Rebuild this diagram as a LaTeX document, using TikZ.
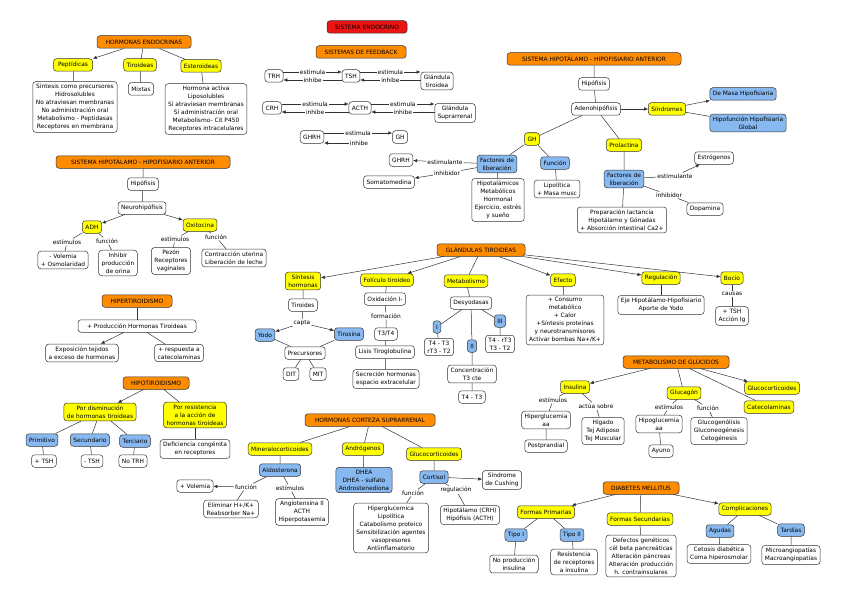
\documentclass[tikz,border=0pt]{standalone}
\usepackage{fontspec}
\setmainfont{DejaVu Sans}
\usetikzlibrary{arrows.meta,calc}
\definecolor{HeadOrange}{RGB}{255,140,0}
\definecolor{TitleRed}{RGB}{235,20,20}
\definecolor{ConceptYellow}{RGB}{255,255,0}
\definecolor{TermBlue}{RGB}{135,185,240}
\definecolor{LineGray}{RGB}{50,50,50}
\newcommand{\feedpair}[2]{%
  \draw[arr] ($(#1.east)+(0,-4)$) -- node[lbl] (#1Est) {estimula} ($(#1.east -| #2.west)+(0,-4)$);
  \draw[arr] ($(#1.east -| #2.west)+(0,4)$) -- node[lbl] (#1Inh) {inhibe} ($(#1.east)+(0,4)$);}

\begin{document}
\begin{tikzpicture}[x=1pt,y=-1pt,
  box/.style={draw=LineGray,fill=white,rounded corners=3pt,align=center,inner xsep=3pt,inner ysep=2.5pt,minimum height=12.5pt,line width=0.5pt,font=\fontsize{5.9}{8}\selectfont},
  head/.style={box,fill=HeadOrange},
  concept/.style={box,fill=ConceptYellow},
  term/.style={box,fill=TermBlue},
  lbl/.style={inner sep=1pt,fill=white,font=\fontsize{5.9}{7}\selectfont},
  link/.style={draw=LineGray,line width=0.5pt},
  arr/.style={link,-{Latex[length=4pt,width=3.5pt]}}]
  \useasboundingbox (0,0) rectangle (848,599);

  \node[head,minimum width=94pt] (hormEnd) at (144,42) {HORMONAS ENDOCRINAS};
  \node[concept,minimum width=39pt] (pept) at (73,65) {Peptídicas};
  \node[concept] (tiro) at (140,65) {Tiroideas};
  \node[concept] (ester) at (201,66) {Esteroideas};
  \node[box] (peptTxt) at (75,107) {Síntesis como precursores\\Hidrosolubles\\No atraviesan membranas\\No administración oral\\Metabolismo - Peptidasas\\Receptores en membrana};
  \node[box] (mixtas) at (141,89) {Mixtas};
  \node[box] (esterTxt) at (206,109) {Hormona activa\\Liposolubles\\Sí atraviesan membranas\\Sí administración oral\\Metabolismo- Cit P450\\Receptores intracelulares};
  \draw[arr] (hormEnd) -- (pept);
  \draw[link] (hormEnd) -- (tiro);
  \draw[link] (hormEnd) -- (ester);
  \draw[link] (pept) -- (peptTxt);
  \draw[link] (tiro) -- (mixtas);
  \draw[link] (ester) -- (esterTxt);

  \node[head,minimum width=174pt] (shhPost) at (143,162) {SISTEMA HIPOTÁLAMO - HIPOFISIARIO ANTERIOR};
  \node[box] (hipoL) at (143,184) {Hipófisis};
  \node[box] (neuro) at (142,208) {Neurohipófisis};
  \node[concept] (adh) at (92,227) {ADH};
  \node[concept] (oxi) at (200,225) {Oxitocina};
  \node[lbl] (adhEst) at (67,242) {estímulos};
  \node[lbl] (adhFun) at (107,241) {función};
  \node[box] (adhEstTxt) at (63,260) {- Volemia\\+ Osmolaridad};
  \node[box] (adhFunTxt) at (118,263) {Inhibir\\producción\\de orina};
  \node[lbl] (oxiEst) at (175,239) {estímulos};
  \node[lbl] (oxiFun) at (216,237) {función};
  \node[box] (oxiEstTxt) at (171,261) {Pezón\\Receptores\\vaginales};
  \node[box] (oxiFunTxt) at (234,258) {Contracción uterina\\Liberación de leche};
  \draw[link] (shhPost) -- (hipoL) -- (neuro);
  \draw[arr] (neuro) -- (adh);
  \draw[arr] (neuro) -- (oxi);
  \draw[link] (adh) -- (adhEst) -- (adhEstTxt);
  \draw[link] (adh) -- (adhFun) -- (adhFunTxt);
  \draw[link] (oxi) -- (oxiEst) -- (oxiEstTxt);
  \draw[link] (oxi) -- (oxiFun) -- (oxiFunTxt);

  \node[head,minimum width=70pt] (hiper) at (137,301) {HIPERTIROIDISMO};
  \node[box,minimum width=118pt] (hiperProd) at (137,326) {+ Producción Hormonas Tiroideas};
  \node[box] (hiperExp) at (82,353) {Exposición tejidos\\a exceso de hormonas};
  \node[box] (hiperResp) at (179,353) {+ respuesta a\\catecolaminas};
  \draw[link] (hiper) -- (hiperProd);
  \draw[arr] (hiperProd) -- (hiperExp);
  \draw[link] (hiperProd) -- (hiperResp);

  \node[head,minimum width=66pt] (hipot) at (156,383) {HIPOTIROIDISMO};
  \node[concept] (hipotDism) at (100,412) {Por disminución\\de hormonas tiroideas};
  \node[concept] (hipotRes) at (195,415) {Por resistencia\\a la acción de\\hormonas tiroideas};
  \node[term] (prim) at (42,440) {Primitivo};
  \node[term] (secu) at (90,440) {Secundario};
  \node[term] (terc) at (135,441) {Terciario};
  \node[box] (primTxt) at (44,461) {+ TSH};
  \node[box] (secuTxt) at (92,461) {- TSH};
  \node[box] (tercTxt) at (133,461) {No TRH};
  \node[box] (hipotResTxt) at (195,449) {Deficiencia congénita\\en receptores};
  \draw[arr] (hipot) -- (hipotDism);
  \draw[link] (hipot) -- (hipotRes);
  \draw[link] (hipotDism) -- (prim) -- (primTxt);
  \draw[link] (hipotDism) -- (secu) -- (secuTxt);
  \draw[link] (hipotDism) -- (terc) -- (tercTxt);
  \draw[link] (hipotRes) -- (hipotResTxt);

  \node[box,fill=TitleRed,minimum width=80pt] (titulo) at (367,27) {SISTEMA ENDOCRINO};
  \node[head,minimum width=90pt] (feedback) at (361,52) {SISTEMAS DE FEEDBACK};
  \node[box] (trh) at (274,76) {TRH};
  \node[box] (tsh) at (351,76) {TSH};
  \node[box] (tiroidea) at (437,81) {Glándula\\tiroidea};
  \node[box] (crh) at (272,108) {CRH};
  \node[box] (acth) at (360,108) {ACTH};
  \node[box] (suprarrenal) at (455,113) {Glándula\\Suprarrenal};
  \node[box] (ghrhA) at (312,137) {GHRH};
  \node[box] (ghA) at (400,137) {GH};
  \feedpair{trh}{tsh}
  \feedpair{tsh}{tiroidea}
  \feedpair{crh}{acth}
  \feedpair{acth}{suprarrenal}
  \draw[arr] ($(ghrhA.east)+(0,-4)$) -- node[lbl] (ghrhEst) {estimula} ($(ghrhA.east -| ghA.west)+(0,-4)$);
  \node[lbl] (ghrhInh) at (359,143) {inhibe};
  \draw[arr] (ghrhInh) -- (ghrhInh -| ghrhA.east);

  \node[head,minimum width=174pt] (shhAnt) at (594,59) {SISTEMA HIPOTÁLAMO - HIPOFISIARIO ANTERIOR};
  \node[box] (hipoR) at (594,84) {Hipófisis};
  \node[box] (adeno) at (596,109) {Adenohipófisis};
  \node[concept] (sindr) at (667,109) {Síndromes};
  \node[term] (masa) at (743,94) {De Masa Hipofisiaria};
  \node[term] (hipofun) at (748,123) {Hipofunción Hipofisiaria\\Global};
  \node[concept] (gh) at (532,139) {GH};
  \node[concept] (prl) at (624,145) {Prolactina};
  \node[term] (ghFact) at (497,164) {Factores de\\liberación};
  \node[term] (ghFun) at (555,163) {Función};
  \node[box] (ghrhB) at (401,160) {GHRH};
  \node[lbl] (ghEstim) at (445,162) {estimulante};
  \node[box] (somato) at (389,182) {Somatomedina};
  \node[lbl] (ghInhib) at (447,173) {inhibidor};
  \node[box] (ghFactTxt) at (498,200) {Hipotalámicos\\Metabólicos\\Hormonal\\Ejercicio, estrés\\y sueño};
  \node[box] (ghFunTxt) at (557,189) {Lipolítica\\+ Masa musc};
  \node[term] (prlFact) at (624,179) {Factores de\\liberación};
  \node[box] (estrog) at (714,158) {Estrógenos};
  \node[lbl] (prlEstim) at (675,176) {estimulante};
  \node[lbl] (prlInhib) at (669,195) {inhibidor};
  \node[box] (dopa) at (705,209) {Dopamina};
  \node[box] (prlTxt) at (622,220) {Preparación lactancia\\Hipotálamo y Gónadas\\+ Absorción intestinal Ca2+};
  \draw[link] (shhAnt) -- (hipoR) -- (adeno);
  \draw[arr] (adeno) -- (sindr);
  \draw[arr] (sindr) -- (masa);
  \draw[link] (sindr) -- (hipofun);
  \draw[link] (adeno) -- (gh);
  \draw[link] (adeno) -- (prl);
  \draw[link] (gh) -- (ghFact);
  \draw[link] (gh) -- (ghFun);
  \draw[arr] (ghFact) -- (ghEstim) -- (ghrhB);
  \draw[arr] (ghFact) -- (ghInhib) -- (somato);
  \draw[link] (ghFact) -- (ghFactTxt);
  \draw[link] (ghFun) -- (ghFunTxt);
  \draw[link] (prl) -- (prlFact) -- (prlTxt);
  \draw[arr] (prlFact) -- (prlEstim) -- (estrog);
  \draw[link] (prlFact) -- (prlInhib) -- (dopa);

  \node[head,minimum width=88pt] (glan) at (481,250) {GLÁNDULAS TIROIDEAS};
  \node[concept] (sint) at (303,281) {Síntesis\\hormonas};
  \node[concept] (foli) at (387,280) {Folículo tiroideo};
  \node[concept] (metab) at (466,281) {Metabolismo};
  \node[concept] (efec) at (563,280) {Efecto};
  \node[concept] (regu) at (661,278) {Regulación};
  \node[concept] (bocio) at (732,278) {Bocio};
  \node[box] (tiroides) at (303,305) {Tiroides};
  \node[lbl] (capta) at (302,323) {capta};
  \node[term] (yodo) at (265,335) {Yodo};
  \node[term] (tirosina) at (349,334) {Tirosina};
  \node[box] (precur) at (305,353) {Precursores};
  \node[box] (dit) at (291,374) {DIT};
  \node[box] (mit) at (318,374) {MIT};
  \node[box] (oxid) at (385,299) {Oxidación I-};
  \node[lbl] (forma) at (386,316) {formación};
  \node[box] (t3t4) at (386,334) {T3/T4};
  \node[box] (lisis) at (385,352) {Lisis Tiroglobulina};
  \node[box] (secre) at (386,379) {Secreción hormonas\\espacio extracelular};
  \node[box] (desyo) at (471,303) {Desyodasas};
  \node[term] (dI) at (437,327) {I};
  \node[term] (dII) at (472,346) {II};
  \node[term] (dIII) at (500,321) {III};
  \node[box] (dItxt) at (439,347) {T4 - T3\\rT3 - T2};
  \node[box] (dIIItxt) at (500,344) {T4 - rT3\\T3 - T2};
  \node[box] (dIItxt) at (472,374) {Concentración\\T3 cte};
  \node[box] (t4t3) at (472,397) {T4 - T3};
  \node[box] (efecTxt) at (565,320) {+ Consumo\\metabólico\\+ Calor\\+Síntesis proteínas\\y neurotransmisores\\Activar bombas Na+/K+};
  \node[box] (reguTxt) at (661,305) {Eje Hipotálamo-Hipofisiario\\Aporte de Yodo};
  \node[lbl] (causas) at (732,294) {causas};
  \node[box] (bocioTxt) at (732,316) {+ TSH\\Acción Ig};
  \draw[arr] (glan) -- (sint);
  \draw[arr] (glan) -- (foli);
  \draw[link] (glan) -- (metab);
  \draw[arr] (glan) -- (efec);
  \draw[arr] (glan) -- (regu);
  \draw[arr] (glan) -- (bocio);
  \draw[link] (sint) -- (tiroides) -- (capta);
  \draw[arr] (capta) -- (yodo);
  \draw[arr] (capta) -- (tirosina);
  \draw[link] (yodo) -- (precur);
  \draw[link] (tirosina) -- (precur);
  \draw[link] (precur) -- (dit);
  \draw[link] (precur) -- (mit);
  \draw[link] (foli) -- (oxid) -- (forma) -- (t3t4) -- (lisis) -- (secre);
  \draw[link] (metab) -- (desyo);
  \draw[link] (desyo) -- (dI) -- (dItxt);
  \draw[link] (desyo) -- (dII) -- (dIItxt) -- (t4t3);
  \draw[link] (desyo) -- (dIII) -- (dIIItxt);
  \draw[link] (efec) -- (efecTxt);
  \draw[link] (regu) -- (reguTxt);
  \draw[link] (bocio) -- (causas) -- (bocioTxt);

  \node[head,minimum width=106pt] (gluc) at (676,362) {METABOLISMO DE GLÚCIDOS};
  \node[concept] (insu) at (575,387) {Insulina};
  \node[concept] (glucag) at (684,393) {Glucagón};
  \node[concept] (glucoc) at (772,388) {Glucocorticoides};
  \node[concept] (catec) at (769,407) {Catecolaminas};
  \node[lbl] (insuEst) at (553,400) {estímulos};
  \node[lbl] (insuAct) at (596,406) {actúa sobre};
  \node[box] (insuHiper) at (546,420) {Hiperglucemia\\aa};
  \node[box] (postp) at (546,446) {Postprandial};
  \node[box] (insuTej) at (603,431) {Hígado\\Tej Adiposo\\Tej Muscular};
  \node[lbl] (glucagEst) at (669,407) {estímulos};
  \node[lbl] (glucagFun) at (708,408) {función};
  \node[box] (glucagHipo) at (659,424) {Hipoglucemia\\aa};
  \node[box] (ayuno) at (661,451) {Ayuno};
  \node[box] (glucagTxt) at (719,431) {Glucogenólisis\\Gluconeogénesis\\Cetogénesis};
  \draw[arr] (gluc) -- (insu);
  \draw[link] (gluc) -- (glucag);
  \draw[arr] (gluc) -- (glucoc);
  \draw[link] (gluc) -- (catec);
  \draw[link] (insu) -- (insuEst) -- (insuHiper) -- (postp);
  \draw[link] (insu) -- (insuAct) -- (insuTej);
  \draw[link] (glucag) -- (glucagEst) -- (glucagHipo) -- (ayuno);
  \draw[link] (glucag) -- (glucagFun) -- (glucagTxt);

  \node[head,minimum width=130pt] (corteza) at (370,420) {HORMONAS CORTEZA SUPRARRENAL};
  \node[concept] (mineral) at (280,449) {Mineralocorticoides};
  \node[concept] (androg) at (363,449) {Andrógenos};
  \node[concept] (glucoCort) at (434,454) {Glucocorticoides};
  \node[term] (aldo) at (280,470) {Aldosterona};
  \node[lbl] (aldoFun) at (246,487) {función};
  \node[box] (volemia) at (195,486) {+ Volemia};
  \node[box] (aldoFunTxt) at (231,509) {Eliminar H+/K+\\Reabsorber Na+};
  \node[lbl] (aldoEst) at (290,488) {estímulos};
  \node[box] (aldoEstTxt) at (302,512) {Angiotensina II\\ACTH\\Hiperpotasemia};
  \node[term] (dhea) at (364,480) {DHEA\\DHEA - sulfato\\Androstenediona};
  \node[term] (cortisol) at (434,477) {Cortisol};
  \node[box] (cushing) at (502,480) {Síndrome\\de Cushing};
  \node[lbl] (cortFun) at (413,493) {función};
  \node[lbl] (cortReg) at (456,490) {regulación};
  \node[box] (cortFunTxt) at (391,528) {Hiperglucemica\\Lipolítica\\Catabolismo proteico\\Sensibilización agentes\\vasopresores\\Antiinflamatorio};
  \node[box] (cortRegTxt) at (470,515) {Hipotálamo (CRH)\\Hipófisis (ACTH)};
  \draw[link] (corteza) -- (mineral) -- (aldo);
  \draw[link] (corteza) -- (androg) -- (dhea);
  \draw[link] (corteza) -- (glucoCort) -- (cortisol);
  \draw[link] (aldo) -- (aldoFun);
  \draw[arr] (aldoFun) -- (volemia);
  \draw[link] (aldoFun) -- (aldoFunTxt);
  \draw[link] (aldo) -- (aldoEst) -- (aldoEstTxt);
  \draw[arr] (cortisol) -- (cushing);
  \draw[link] (cortisol) -- (cortFun) -- (cortFunTxt);
  \draw[link] (cortisol) -- (cortReg) -- (cortRegTxt);

  \node[head,minimum width=76pt] (diab) at (641,488) {DIABETES MELLITUS};
  \node[concept] (fprim) at (546,512) {Formas Primarias};
  \node[concept] (fsec) at (640,519) {Formas Secundarias};
  \node[concept] (compl) at (745,509) {Complicaciones};
  \node[term] (tipo1) at (516,535) {Tipo I};
  \node[term] (tipo2) at (572,535) {Tipo II};
  \node[box] (tipo1Txt) at (514,564) {No producción\\insulina};
  \node[box] (tipo2Txt) at (574,562) {Resistencia\\de receptores\\a insulina};
  \node[box] (fsecTxt) at (641,556) {Defectos genéticos\\cél beta pancreáticas\\Alteración páncreas\\Alteración producción\\h. contrainsulares};
  \node[term] (agudas) at (720,531) {Agudas};
  \node[term] (tardias) at (791,530) {Tardías};
  \node[box] (agudasTxt) at (719,554) {Cetosis diabética\\Coma hiperosmolar};
  \node[box] (tardiasTxt) at (791,555) {Microangiopatías\\Macroangiopatías};
  \draw[arr] (diab) -- (fprim);
  \draw[link] (diab) -- (fsec) -- (fsecTxt);
  \draw[arr] (diab) -- (compl);
  \draw[link] (fprim) -- (tipo1) -- (tipo1Txt);
  \draw[link] (fprim) -- (tipo2) -- (tipo2Txt);
  \draw[link] (compl) -- (agudas) -- (agudasTxt);
  \draw[link] (compl) -- (tardias) -- (tardiasTxt);
\end{tikzpicture}
\end{document}
